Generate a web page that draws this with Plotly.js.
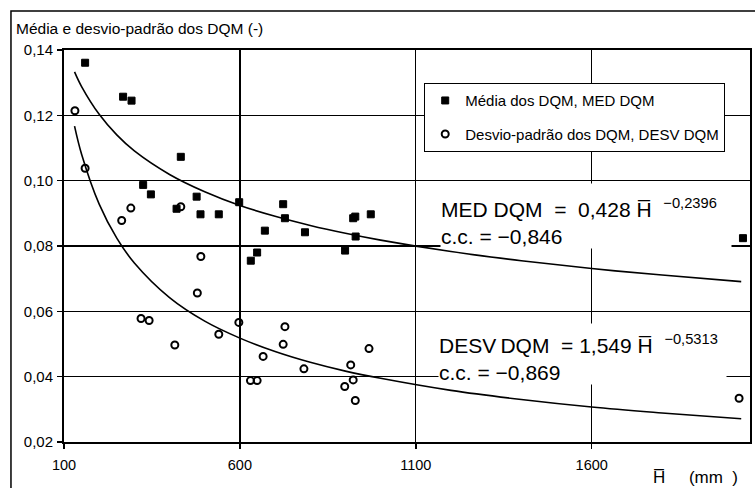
<!DOCTYPE html>
<html>
<head>
<meta charset="utf-8">
<script src="https://cdn.plot.ly/plotly-3.0.1.min.js"></script>
<style>html,body{margin:0;padding:0;background:#fff;}#chart{width:755px;height:488px;}</style>
</head>
<body>
<div id="chart"></div>
<script>
// Scatter data
var medH = [160, 268, 292, 325, 347, 420, 432, 477, 488, 540, 598, 631, 649, 671, 723, 728, 785, 899, 922, 928, 929, 972, 2030];
var medV = [0.1361, 0.1257, 0.1245, 0.0987, 0.0958, 0.0914, 0.1073, 0.0951, 0.0897, 0.0897, 0.0934, 0.0755, 0.0780, 0.0847, 0.0928, 0.0885, 0.0842, 0.0786, 0.0885, 0.0890, 0.0829, 0.0897, 0.0824];

var desvH = [131, 160, 264, 290, 319, 342, 415, 432, 479, 489, 540, 597, 630, 649, 666, 723, 728, 782, 898, 915, 922, 928, 967, 2019];
var desvV = [0.1214, 0.1038, 0.0878, 0.0916, 0.0578, 0.0572, 0.0497, 0.0920, 0.0656, 0.0768, 0.0530, 0.0566, 0.0388, 0.0388, 0.0462, 0.0499, 0.0553, 0.0424, 0.0370, 0.0436, 0.0390, 0.0327, 0.0486, 0.0334];

// Fitted curves, points
var fitH = [130, 150, 200, 250, 300, 400, 500, 600, 700, 800, 900, 1000, 1200, 1400, 1600, 1800, 2025];
var medFit = [0.1333, 0.1288, 0.1203, 0.1140, 0.1091, 0.1019, 0.0966, 0.0924, 0.0891, 0.0863, 0.0839, 0.0818, 0.0783, 0.0755, 0.0731, 0.0711, 0.0691];
var desvFit = [0.1167, 0.1081, 0.0928, 0.0824, 0.0748, 0.0642, 0.0570, 0.0518, 0.0477, 0.0444, 0.0417, 0.0395, 0.0358, 0.0330, 0.0307, 0.0289, 0.0271];

var xTicks = [100, 600, 1100, 1600];
var yTicks = [0.02, 0.04, 0.06, 0.08, 0.10, 0.12, 0.14];

var FONT = 'Liberation Sans, Arial, sans-serif';
var NB = '\u00a0';

var traces = [
  {x: fitH, y: medFit, mode: 'lines', line: {color: '#000', width: 1.6, shape: 'spline'}, showlegend: false, hoverinfo: 'skip'},
  {x: fitH, y: desvFit, mode: 'lines', line: {color: '#000', width: 1.6, shape: 'spline'}, showlegend: false, hoverinfo: 'skip'},
  {x: medH, y: medV, mode: 'markers', name: 'Média dos DQM, MED DQM', legendgroup: 'a',
   marker: {symbol: 'square', size: 7, color: '#000', line: {color: '#000', width: 1}}},
  {x: desvH, y: desvV, mode: 'markers', name: 'Desvio-padrão dos DQM, DESV DQM', legendgroup: 'b',
   marker: {symbol: 'circle-open', size: 7, color: '#000', line: {color: '#000', width: 2}}}
];

var layout = {
  width: 755, height: 488,
  margin: {l: 64, r: 5, t: 50, b: 46},
  paper_bgcolor: '#fff', plot_bgcolor: '#fff',
  separators: ', ',
  font: {family: FONT, size: 14, color: '#000'},
  showlegend: true,
  legend: {x: 0.5248, y: 0.9158, xanchor: 'left', yanchor: 'top',
           bgcolor: '#fff', bordercolor: '#000', borderwidth: 1.2,
           font: {family: FONT, size: 15, color: '#000'},
           traceorder: 'grouped', tracegroupgap: 11, itemwidth: 30},
  xaxis: {range: [100, 2050], tickvals: xTicks, ticktext: xTicks.map(String),
          showgrid: true, gridcolor: '#000', gridwidth: 1.2, zeroline: false,
          showline: true, mirror: true, linecolor: '#000', linewidth: 2,
          ticks: 'outside', ticklen: 5, tickwidth: 1.5, tickcolor: '#000',
          tickfont: {family: FONT, size: 14.5, color: '#000'}, ticklabelstandoff: 4},
  yaxis: {range: [0.02, 0.14], tickvals: yTicks, tickformat: '.2f',
          showgrid: true, gridcolor: '#000', gridwidth: 1.2, zeroline: false,
          showline: true, mirror: true, linecolor: '#000', linewidth: 2,
          ticks: 'outside', ticklen: 5, tickwidth: 1.5, tickcolor: '#000',
          tickfont: {family: FONT, size: 15, color: '#000'}, ticklabelstandoff: 1},
  shapes: [
    {type: 'rect', xref: 'paper', yref: 'paper', x0: -0.0773, x1: 1.05, y0: -0.2, y1: 1.0995,
     line: {color: '#000', width: 1.5}, fillcolor: 'rgba(0,0,0,0)', layer: 'below'}
  ],
  annotations: [
    {xref: 'paper', yref: 'paper', x: -0.0729, y: 1.056, xanchor: 'left', yanchor: 'middle',
     text: 'Média e desvio-padrão dos DQM (-)', showarrow: false,
     font: {family: FONT, size: 15.5, color: '#000'}},
    {xref: 'paper', yref: 'paper', x: 0.548, y: 0.661, xanchor: 'left', yanchor: 'top',
     text: 'MED DQM' + NB + NB + '=' + NB + NB + '0,428' + NB + 'H\u0305' + NB + NB + '<sup>\u22120,2396</sup><br>c.c. = \u22120,846',
     showarrow: false, align: 'left', valign: 'bottom', bgcolor: '#fff', borderpad: 0,
     width: 290, height: 64,
     font: {family: FONT, size: 21, color: '#000'}},
    {xref: 'paper', yref: 'paper', x: 0.545, y: 0.304, xanchor: 'left', yanchor: 'top',
     text: 'DESV\u2009DQM' + NB + NB + '=' + NB + '1,549' + NB + 'H\u0305' + NB + NB + '<sup>\u22120,5313</sup><br>c.c. = \u22120,869',
     showarrow: false, align: 'left', valign: 'bottom', bgcolor: '#fff', borderpad: 0,
     width: 287, height: 60,
     font: {family: FONT, size: 21, color: '#000'}},
    {xref: 'paper', yref: 'paper', x: 0.856, y: -0.09, xanchor: 'left', yanchor: 'middle',
     text: 'H\u0305' + NB + NB + NB + NB + NB + '(mm' + NB + NB + ')', showarrow: false,
     font: {family: FONT, size: 17, color: '#000'}}
  ]
};

Plotly.newPlot('chart', traces, layout, {displayModeBar: false, staticPlot: true});
</script>
</body>
</html>
